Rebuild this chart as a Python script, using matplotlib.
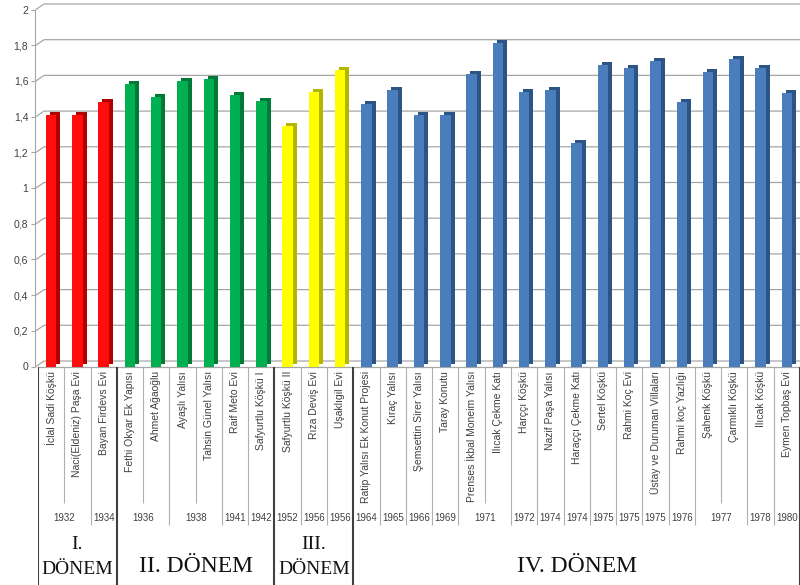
import numpy as np
import matplotlib
matplotlib.use('Agg')
import matplotlib.pyplot as plt
from matplotlib.transforms import ScaledTranslation

# yapi adlari, degerler ve tablo satirlari
names = ['İclal Sadi Köşkü', 'Naci(Eldeniz) Paşa Evi', 'Bayan Firdevs Evi',
         'Fethi Okyar Ek Yapısı', 'Ahmet Ağaoğlu', 'Ayaşlı Yalısı',
         'Tahsin Günel Yalısı', 'Raif Meto Evi', 'Safyurtlu Köşkü I',
         'Safyurtlu Köşkü II', 'Rıza Deviş Evi', 'Uşaklıgil Evi',
         'Ratip Yalısı Ek Konut Projesi', 'Kıraç Yalısı', 'Şemsettin Sirer Yalısı',
         'Taray Konutu', 'Prenses İkbal Moneim Yalısı', 'Ilıcak Çekme Katı',
         'Harççı Köşkü', 'Nazif Paşa Yalısı', 'Haraççı Çekme Katı',
         'Sertel Köşkü', 'Rahmi Koç Evi', 'Üstay ve Duruman Villaları',
         'Rahmi koç Yazlığı', 'Şahenk Köşkü', 'Çarmıklı Köşkü',
         'Ilıcak Köşkü', 'Eymen Topbaş Evi']
values = [1.41, 1.41, 1.48,
          1.58, 1.51, 1.60, 1.61, 1.52, 1.49,
          1.35, 1.54, 1.66,
          1.47, 1.55, 1.41, 1.41, 1.64, 1.81, 1.54, 1.55, 1.25,
          1.69, 1.67, 1.71, 1.48, 1.65, 1.72, 1.67, 1.53]

years = ['1932', '1934', '1936', '1938', '1941', '1942', '1952', '1956', '1956',
         '1964', '1965', '1966', '1969', '1971', '1972', '1974', '1974',
         '1975', '1975', '1975', '1976', '1977', '1978', '1980']
year_spans = [2, 1, 2, 2, 1, 1, 1, 1, 1,
              1, 1, 1, 1, 2, 1, 1, 1,
              1, 1, 1, 1, 2, 1, 1]

periods = ['I.\nDÖNEM', 'II. DÖNEM', 'III.\nDÖNEM', 'IV. DÖNEM']
period_spans = [3, 6, 3, 17]
period_front = ['#ff0d0d', '#00b050', '#ffff00', '#4a7dbb']
period_side = ['#b00000', '#007a36', '#b5b500', '#2c5585']

yticks = np.arange(0, 2.01, 0.2)
ytick_labels = ['0', '0,2', '0,4', '0,6', '0,8', '1', '1,2', '1,4', '1,6', '1,8', '2']

front_colors, side_colors = [], []
for span, fc, sc in zip(period_spans, period_front, period_side):
    front_colors += [fc] * span
    side_colors += [sc] * span

n = len(names)
x = np.arange(n)

fig = plt.figure(figsize=(8, 5.85), dpi=100)
fig.patch.set_facecolor('white')

ax = fig.add_axes([38 / 800, (585 - 366.5) / 585, 762 / 800, 357 / 585])
ax.set_xlim(-0.5, n - 0.5)
ax.set_ylim(0, 2)

grid_c = '#a6a6a6'

# arka duvar cizgileri (3B gorunum)
inv = ax.transData.inverted()
right_px = ax.transData.transform((n - 0.5, 0))[0] + 10
for v in yticks:
    px, py = ax.transData.transform((-0.5, v))
    pts = np.array([[px - 2, py], [px + 6, py + 5.5], [right_px, py + 5.5]])
    d = inv.transform(pts)
    ax.plot(d[:, 0], d[:, 1], color=grid_c, lw=0.9, clip_on=False, zorder=1)
ax.axhline(0, color=grid_c, lw=0.9, zorder=1, clip_on=False)

# cubuklar: once koyu yan yuz, sonra on yuz
depth = ax.transData + ScaledTranslation(0.04, 0.03, fig.dpi_scale_trans)
ax.bar(x, values, width=0.4, color=side_colors, transform=depth, zorder=2)
ax.bar(x, values, width=0.4, color=front_colors, zorder=3)

ax.set_yticks(yticks)
ax.set_yticklabels(ytick_labels)
ax.set_xticks([])
for s in ['top', 'right', 'bottom']:
    ax.spines[s].set_visible(False)
ax.spines['left'].set_position(('outward', 2))
ax.spines['left'].set_color(grid_c)
ax.tick_params(axis='y', length=3, color=grid_c, labelsize=7.5,
               labelcolor='#404040', pad=2)
for lab in ax.get_yticklabels():
    lab.set_family('Liberation Sans')

# alttaki tablo
tab = fig.add_axes([38 / 800, 0, 762 / 800, 218 / 585], sharex=ax)
tab.set_ylim(218, 0)
tab.axis('off')

period_edges = set(np.cumsum(period_spans))
year_edges = set(np.cumsum(year_spans))
tab.vlines(-0.5, 0, 218, color='#404040', lw=1.5)
for k in range(1, n + 1):
    xb = k - 0.5
    if k in period_edges:
        tab.vlines(xb, 0, 218, color='#404040', lw=1.5, clip_on=False)
    elif k in year_edges:
        tab.vlines(xb, 0, 158, color='#b0b0b0', lw=0.8)
    else:
        tab.vlines(xb, 0, 136, color='#b0b0b0', lw=0.8)

for i, name in enumerate(names):
    tab.text(i, 4, name, rotation=90, ha='center', va='top', fontsize=7.5,
             color='#404040', family='Liberation Sans')

start = 0
for yr, span in zip(years, year_spans):
    tab.text(start + (span - 1) / 2, 151, yr, ha='center', va='center',
             fontsize=7, color='#404040', family='Liberation Sans')
    start += span

start = 0
for p, span in zip(periods, period_spans):
    cx = start + (span - 1) / 2
    if '\n' in p:
        tab.text(cx, 190, p, ha='center', va='center', fontsize=14,
                 family='Liberation Serif', linespacing=1.65, color='#111111')
    else:
        tab.text(cx, 199, p, ha='center', va='center', fontsize=17,
                 family='Liberation Serif', color='#111111')
    start += span

fig.savefig('out.png', dpi=100)
